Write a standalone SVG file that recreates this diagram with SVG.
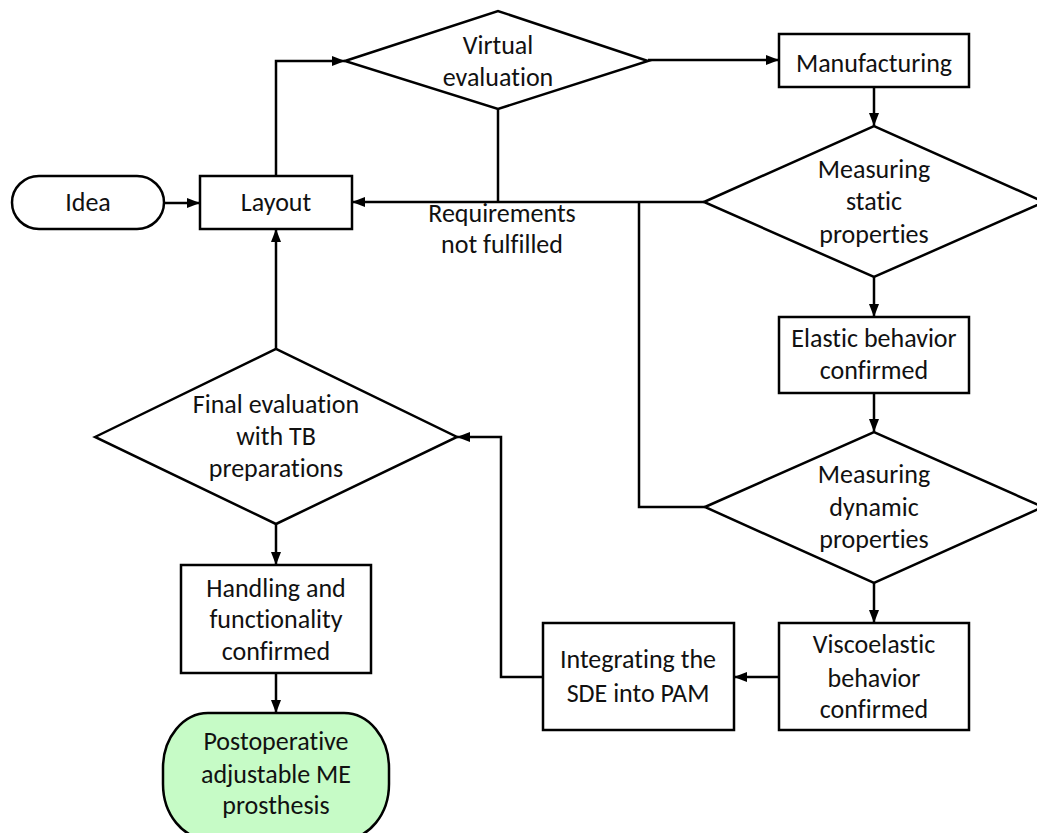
<svg xmlns="http://www.w3.org/2000/svg" width="1037" height="833" viewBox="0 0 1037 833">
<style>
.s{fill:#fff;stroke:#000;stroke-width:2.5}
.g{fill:#c6fbc6;stroke:#000;stroke-width:2.5}
.c{fill:none;stroke:#000;stroke-width:2.5}
text{font-family:"Carlito","Lato",sans-serif;font-size:26px;text-anchor:middle;fill:#111;font-variant-ligatures:none;font-feature-settings:"liga" 0,"clig" 0}
</style>
<defs>
<marker id="a" viewBox="0 0 13 10" refX="13" refY="5" markerWidth="13" markerHeight="10" markerUnits="userSpaceOnUse" orient="auto">
<path d="M0,0 L13,5 L0,10 Z" fill="#000"/>
</marker>
</defs>
<g id="connectors">
<path class="c" d="M164,203 H200" marker-end="url(#a)"/>
<path class="c" d="M276,175 V61 H345" marker-end="url(#a)"/>
<path class="c" d="M648,60 H779" marker-end="url(#a)"/>
<path class="c" d="M874,87 V126" marker-end="url(#a)"/>
<path class="c" d="M704,202 H352" marker-end="url(#a)"/>
<path class="c" d="M498,109 V202"/>
<path class="c" d="M705,507 H639 V202"/>
<path class="c" d="M874,277 V317" marker-end="url(#a)"/>
<path class="c" d="M874,393 V432" marker-end="url(#a)"/>
<path class="c" d="M874,583 V623" marker-end="url(#a)"/>
<path class="c" d="M779,677 H734" marker-end="url(#a)"/>
<path class="c" d="M543,677 H501 V437 H457" marker-end="url(#a)"/>
<path class="c" d="M276,349 V229" marker-end="url(#a)"/>
<path class="c" d="M276,524 V565" marker-end="url(#a)"/>
<path class="c" d="M276,673 V713" marker-end="url(#a)"/>
<text x="502" y="222">Requirements</text>
<text x="502" y="253">not fulfilled</text>
</g>
<g id="idea">
<rect class="s" x="12" y="176" width="152" height="53" rx="27" ry="27"/>
<text x="88" y="211">Idea</text>
</g>
<g id="layout">
<rect class="s" x="200" y="176" width="152" height="53"/>
<text x="276" y="211">Layout</text>
</g>
<g id="virtual">
<polygon class="s" points="345,61 498,11 648,61 498,109"/>
<text x="498" y="54">Virtual</text>
<text x="498" y="86">evaluation</text>
</g>
<g id="manufacturing">
<rect class="s" x="779" y="34" width="190" height="53"/>
<text x="874" y="72">Manufacturing</text>
</g>
<g id="static">
<polygon class="s" points="704,202 874,126 1044,202 874,277"/>
<text x="874" y="178">Measuring</text>
<text x="874" y="210">static</text>
<text x="874" y="243">properties</text>
</g>
<g id="elastic">
<rect class="s" x="779" y="317" width="190" height="76"/>
<text x="874" y="347">Elastic behavior</text>
<text x="874" y="379">confirmed</text>
</g>
<g id="dynamic">
<polygon class="s" points="705,507 874,432 1043,507 874,583"/>
<text x="874" y="483">Measuring</text>
<text x="874" y="516">dynamic</text>
<text x="874" y="548">properties</text>
</g>
<g id="viscoelastic">
<rect class="s" x="779" y="623" width="190" height="107"/>
<text x="874" y="653">Viscoelastic</text>
<text x="874" y="687">behavior</text>
<text x="874" y="718">confirmed</text>
</g>
<g id="integrating">
<rect class="s" x="543" y="623" width="191" height="107"/>
<text x="638" y="668">Integrating the</text>
<text x="638" y="702">SDE into PAM</text>
</g>
<g id="final">
<polygon class="s" points="95,437 276,349 457,437 276,524"/>
<text x="276" y="413">Final evaluation</text>
<text x="276" y="445">with TB</text>
<text x="276" y="477">preparations</text>
</g>
<g id="handling">
<rect class="s" x="181" y="565" width="190" height="108"/>
<text x="276" y="597">Handling and</text>
<text x="276" y="628">functionality</text>
<text x="276" y="660">confirmed</text>
</g>
<g id="prosthesis">
<rect class="g" x="163" y="713" width="226" height="126" rx="45" ry="55"/>
<text x="276" y="750">Postoperative</text>
<text x="276" y="783">adjustable ME</text>
<text x="276" y="814">prosthesis</text>
</g>
</svg>
